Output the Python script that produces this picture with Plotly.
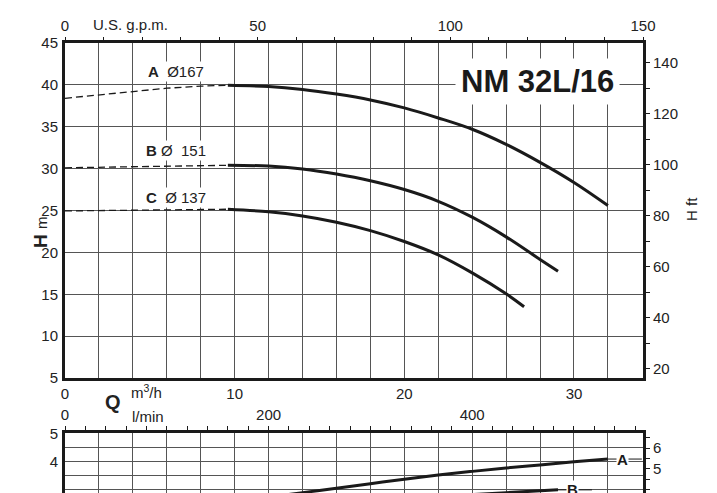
import plotly.graph_objects as go

# ---------------- data ----------------
GPM_TO_M3H = 0.2271247
FT_TO_M = 0.3048
HP_TO_KW = 0.7457
LMIN_PER_M3H = 1000 / 60

q_max_gpm = 150
q_max = q_max_gpm * GPM_TO_M3H          # right edge in m3/h
h_min, h_max = 5, 45                     # H axis (m)
p_min, p_max = 2.868, 5                  # visible power window (kW)

# H-Q curves: dashed (unstable) part and solid part
qA_dash = [0, 2, 4, 6, 8, 9.6]
hA_dash = [38.4, 38.8, 39.25, 39.6, 39.85, 39.95]
qA = [9.6, 12, 14, 16, 18, 20, 22, 24, 26, 28, 30, 32]
hA = [39.95, 39.8, 39.45, 38.9, 38.2, 37.25, 36.05, 34.7, 32.9, 30.75, 28.35, 25.6]

qB_dash = [0, 2, 4, 6, 8, 9.6]
hB_dash = [30.1, 30.15, 30.2, 30.3, 30.35, 30.4]
qB = [9.6, 12, 14, 16, 18, 20, 22, 24, 26, 28, 29.06]
hB = [30.4, 30.3, 29.95, 29.35, 28.55, 27.5, 26.1, 24.2, 21.85, 19.15, 17.75]

qC_dash = [0, 2, 4, 6, 8, 9.6]
hC_dash = [24.95, 25.0, 25.05, 25.1, 25.15, 25.15]
qC = [9.6, 12, 14, 16, 18, 20, 22, 24, 26, 27.06]
hC = [25.15, 24.85, 24.35, 23.6, 22.6, 21.3, 19.7, 17.55, 15.05, 13.5]

# Power curves (m3/h, kW)
qPA = [10, 12, 14, 16, 18, 20, 22, 24, 26, 28, 30, 32]
pA = [2.56, 2.72, 2.88, 3.04, 3.20, 3.36, 3.51, 3.64, 3.76, 3.87, 3.98, 4.08]
qPB = [10, 14, 18, 22, 26, 29.06]
pB = [2.2, 2.4, 2.58, 2.74, 2.88, 2.98]

curve_labels = ["<b>A</b>  Ø167", "<b>B</b> Ø  151", "<b>C</b>  Ø 137"]
model_name = "NM 32L/16"

# tick definitions
q_grid = list(range(0, 34, 2))
q_labels = [0, 10, 20, 30]
gpm_ticks = list(range(0, 151, 10))
gpm_labels = [0, 50, 100, 150]
ft_ticks = list(range(20, 141, 10))
ft_labels = list(range(20, 141, 20))
lmin_ticks = list(range(0, 561, 20))
lmin_labels = [0, 200, 400]
kw_grid = [3, 3.5, 4, 4.5, 5]
kw_labels = [3, 4, 5]
hp_ticks = [4, 4.5, 5, 5.5, 6, 6.5]
hp_labels = [4, 5, 6]

# ---------------- style ----------------
FONT = "Liberation Sans, Arial, sans-serif"
INK = "#1a1a1a"
TXT = "#222222"
GRID = "#555555"
OFF = 8                      # page body margin in the browser
W, H = 717 - OFF, 493 - OFF
ML, MR, MT, MB = 65 - OFF, 74, 43 - OFF, 0
PW, PH = W - ML - MR, H - MT - MB


def px(sx):   # screen pixel x -> paper
    return (sx - OFF - ML) / PW


def py(sy):   # screen pixel y -> paper
    return (H - MB - (sy - OFF)) / PH


top_dom = [py(378), 1]
bot_dom = [0, py(433.3)]
LEAD = 2.0  # label leader length, m3/h


def lbl(vals, shown):
    return [(str(int(v)) if v in shown else " ") for v in vals]


fig = go.Figure()

solid = dict(color=INK, width=3)
dash = dict(color=INK, width=1.3, dash="7px,4px")
for qd, hd, qs, hs in [(qA_dash, hA_dash, qA, hA),
                       (qB_dash, hB_dash, qB, hB),
                       (qC_dash, hC_dash, qC, hC)]:
    fig.add_trace(go.Scatter(x=qd, y=hd, mode="lines", line=dash,
                             xaxis="x", yaxis="y", showlegend=False, hoverinfo="skip"))
    fig.add_trace(go.Scatter(x=qs, y=hs, mode="lines", line=solid,
                             xaxis="x", yaxis="y", showlegend=False, hoverinfo="skip",
                             line_shape="spline"))

for qp, pp in [(qPA, pA), (qPB, pB)]:
    fig.add_trace(go.Scatter(x=qp, y=pp, mode="lines", line=solid,
                             xaxis="x3", yaxis="y3", showlegend=False, hoverinfo="skip",
                             line_shape="spline"))
    fig.add_trace(go.Scatter(x=[qp[-1], qp[-1] + LEAD], y=[pp[-1], pp[-1]], mode="lines",
                             line=dict(color=INK, width=1), xaxis="x3", yaxis="y3",
                             showlegend=False, hoverinfo="skip"))

# empty traces so the secondary unit axes get drawn
for xa, ya in [("x2", "y2"), ("x4", "y4")]:
    fig.add_trace(go.Scatter(x=[None], y=[None], mode="lines", xaxis=xa, yaxis=ya,
                             showlegend=False, hoverinfo="skip"))

tickfont = dict(family=FONT, size=15, color=TXT)
gridax = dict(showgrid=True, gridcolor=GRID, gridwidth=1, zeroline=False)
border = dict(showline=True, linewidth=3, linecolor=INK, mirror=True)

fig.update_layout(
    width=W, height=H,
    margin=dict(l=ML, r=MR, t=MT, b=MB, autoexpand=False),
    paper_bgcolor="white", plot_bgcolor="white",
    font=dict(family=FONT, color=TXT),
    xaxis=dict(domain=[0, 1], anchor="y", range=[0, q_max], tickmode="array",
               tickvals=q_grid, ticktext=lbl(q_grid, q_labels), ticks="",
               tickfont=tickfont, **gridax, **border),
    yaxis=dict(domain=top_dom, anchor="x", range=[h_min, h_max], tickmode="array",
               tickvals=list(range(5, 46, 5)), ticks="", tickfont=tickfont,
               ticklabelstandoff=1, **gridax, **border),
    xaxis2=dict(overlaying="x", anchor="y", side="top", range=[0, q_max_gpm],
                tickmode="array", tickvals=gpm_ticks, ticktext=lbl(gpm_ticks, gpm_labels),
                ticks="outside", ticklen=5, tickwidth=1, tickcolor=INK,
                showgrid=False, zeroline=False, showline=False, tickfont=tickfont),
    yaxis2=dict(overlaying="y", anchor="x", side="right",
                range=[h_min / FT_TO_M, h_max / FT_TO_M], tickmode="array",
                tickvals=ft_ticks, ticktext=lbl(ft_ticks, ft_labels),
                ticks="outside", ticklen=6, tickwidth=1, tickcolor=INK,
                showgrid=False, zeroline=False, showline=False, tickfont=tickfont),
    xaxis3=dict(domain=[0, 1], anchor="y3", range=[0, q_max], tickmode="array",
                tickvals=q_grid, showticklabels=False, ticks="", showline=False, **gridax),
    yaxis3=dict(domain=bot_dom, anchor="x3", range=[p_min, p_max], tickmode="array",
                tickvals=kw_grid, ticktext=[("%g" % v if v in kw_labels else " ") for v in kw_grid],
                ticks="", tickfont=tickfont, ticklabelstandoff=1, **gridax, **border),
    xaxis4=dict(overlaying="x3", anchor="y3", side="top", range=[0, q_max * LMIN_PER_M3H],
                tickmode="array", tickvals=lmin_ticks, ticktext=lbl(lmin_ticks, lmin_labels),
                ticks="outside", ticklen=4, tickwidth=1, tickcolor=INK,
                showgrid=False, zeroline=False, showline=True, linewidth=3, linecolor=INK,
                tickfont=tickfont),
    yaxis4=dict(overlaying="y3", anchor="x3", side="right",
                range=[p_min / HP_TO_KW, p_max / HP_TO_KW], tickmode="array",
                tickvals=hp_ticks, ticktext=[("%g" % v if v in hp_labels else " ") for v in hp_ticks],
                ticks="outside", ticklen=6, tickwidth=1, tickcolor=INK,
                showgrid=False, zeroline=False, showline=False, tickfont=tickfont),
)

ann = []
C = dict(xanchor="center", yanchor="middle", showarrow=False)
# curve labels (data coords of top plot)
for text, ylab in zip(curve_labels, [41.55, 32.2, 26.6]):
    ann.append(dict(x=6.55, y=ylab, xref="x", yref="y", text=text,
                    font=dict(family=FONT, size=15, color=TXT), bgcolor="white",
                    borderpad=1, **C))
ann.append(dict(x=px(537), y=py(81), xref="paper", yref="paper", text="<b>%s</b>" % model_name,
                font=dict(family=FONT, size=31, color=INK),
                bgcolor="white", borderpad=5, **C))
ann.append(dict(x=px(130), y=py(25), xref="paper", yref="paper", text="U.S. g.p.m.",
                font=dict(family=FONT, size=15, color=TXT), **C))
ann.append(dict(x=px(40), y=py(232), xref="paper", yref="paper",
                text="<b>H</b> <span style='font-size:15px'>m</span>",
                textangle=-90, font=dict(family=FONT, size=19, color=TXT), **C))
ann.append(dict(x=px(691), y=py(209), xref="paper", yref="paper", text="H ft",
                textangle=-90, font=dict(family=FONT, size=15, color=TXT), **C))
ann.append(dict(x=px(113), y=py(402), xref="paper", yref="paper", text="<b>Q</b>",
                font=dict(family=FONT, size=20, color=TXT), **C))
ann.append(dict(x=px(146), y=py(391), xref="paper", yref="paper", text="m<sup>3</sup>/h",
                font=dict(family=FONT, size=15, color=TXT), **C))
ann.append(dict(x=px(148), y=py(416), xref="paper", yref="paper", text="l/min",
                font=dict(family=FONT, size=15, color=TXT), **C))
# power labels
for qp, pp, name in [(qPA, pA, "A"), (qPB, pB, "B")]:
    ann.append(dict(x=qp[-1] + LEAD * 0.42, y=pp[-1], xref="x3", yref="y3",
                    text="<b>%s</b>" % name,
                    font=dict(family=FONT, size=15, color=INK), bgcolor="white",
                    borderpad=0, **C))
ann.append(dict(x=px(20), y=py(505), xref="paper", yref="paper", text="kW",
                textangle=-90, font=dict(family=FONT, size=15, color=TXT), **C))
ann.append(dict(x=px(688), y=py(510), xref="paper", yref="paper", text="HP",
                textangle=-90, font=dict(family=FONT, size=15, color=TXT), **C))
fig.update_layout(annotations=ann)

fig.write_html("out.html")
